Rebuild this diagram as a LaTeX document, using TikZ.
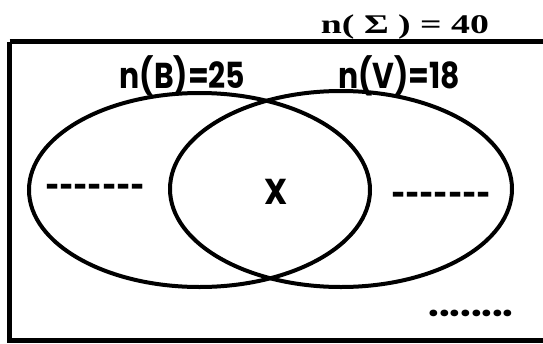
\documentclass[tikz,border=0pt]{standalone}
\usepackage{fontspec}
\newfontfamily\pop{Poppins}
\newfontfamily\tms{Liberation Serif}
\newfontfamily\djv{DejaVu Sans}
\tikzset{
  venn/.style={draw=black, line width=4pt},
  frame/.style={draw=black, line width=5pt},
  lbl/.style={font=\pop\bfseries\fontsize{36}{40}\selectfont, inner sep=0pt, anchor=base},
  dsh/.style={font=\djv\bfseries\fontsize{34}{38}\selectfont, inner sep=0pt, anchor=center},
  ttl/.style={font=\tms\bfseries\fontsize{27}{30}\selectfont, inner sep=0pt, anchor=base},
}
\begin{document}
\begin{tikzpicture}[x=1pt,y=-1pt]
\useasboundingbox (0,0) rectangle (543,343);
\clip (0,0) rectangle (543,343);
\fill[white] (0,0) rectangle (543,343);
\draw[frame] (9.5,41.5) -- (560,41.5);
\draw[frame] (9.5,41.5) -- (9.5,340.5) -- (560,340.5);
\draw[venn] (199.5,190) ellipse [x radius=170.5, y radius=97];
\draw[venn] (341,189) ellipse [x radius=171, y radius=98];
\node[ttl] (total) at (405,33) {\scalebox{1.4}[1]{n( Σ ) = 40}};
\node[lbl] (nb) at (182.5,88) {\scalebox{0.83}[1]{n(B)=25}};
\node[lbl] (nv) at (399,88) {\scalebox{0.83}[1]{n(V)=18}};
\node[lbl, anchor=center] (x) at (276,191.5) {\scalebox{0.9}[1]{X}};
\node[dsh] (dl) at (95,190) {-------};
\node[dsh] (dr) at (441,198) {-------};
\node[lbl] (dots) at (471,316) {\scalebox{1.05}[1]{........}};
\end{tikzpicture}
\end{document}
